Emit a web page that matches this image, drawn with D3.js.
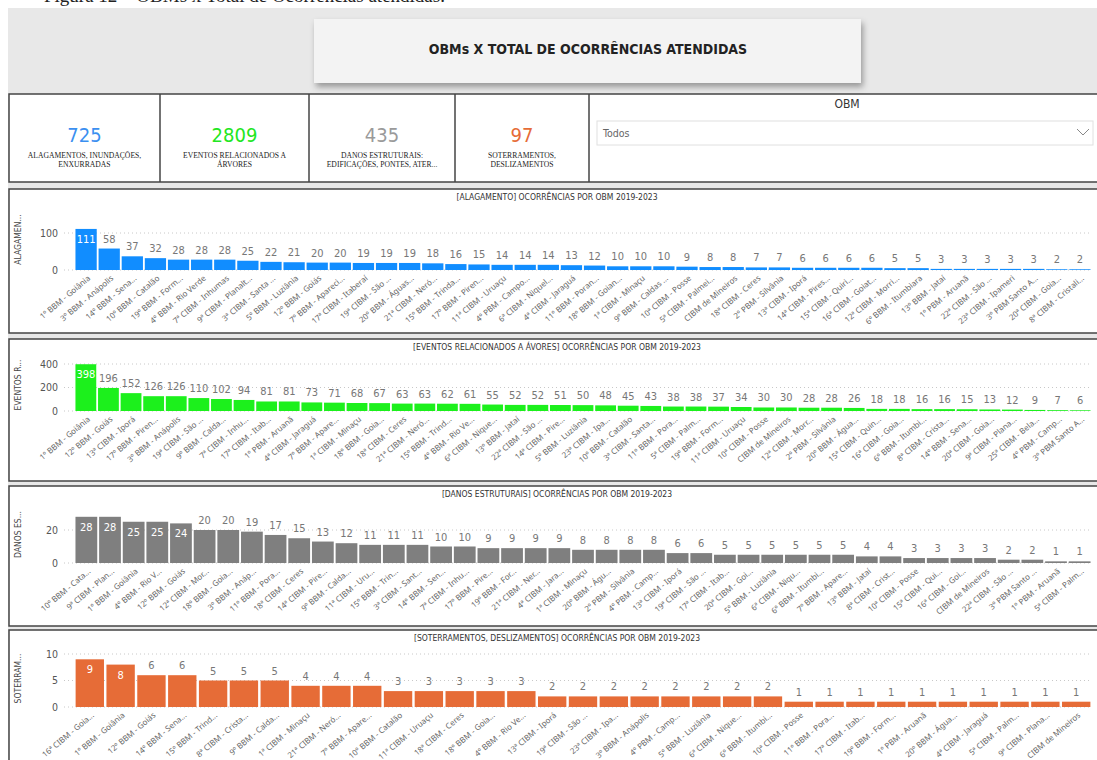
<!DOCTYPE html>
<html><head><meta charset="utf-8">
<script src="https://cdn.jsdelivr.net/npm/d3@7"></script>
<style>
html,body{margin:0;padding:0;background:#fff;}
svg{display:block;}
</style></head>
<body>
<svg id="c" width="1097" height="760"></svg>
<script>
// ---------------- DATA ----------------
const kpiValues = [725, 2809, 435, 97];
const kpiLabels = [
  ["ALAGAMENTOS, INUNDAÇÕES,", "ENXURRADAS"],
  ["EVENTOS RELACIONADOS A", "ÁRVORES"],
  ["DANOS ESTRUTURAIS:", "EDIFICAÇÕES, PONTES, ATER..."],
  ["SOTERRAMENTOS,", "DESLIZAMENTOS"]
];

const alagCategories = ["1º BBM - Goiânia","3º BBM - Anápolis","14º BBM - Sena...","10º BBM - Catalão","19º BBM - Form...","4º BBM - Rio Verde","7ª CIBM - Inhumas","9ª CIBM - Planalt...","3ª CIBM - Santa ...","5º BBM - Luziânia","12º BBM - Goiás","7º BBM - Apareci...","17ª CIBM - Itaberaí","19ª CIBM - São ...","20º BBM - Águas...","21ª CIBM - Neró...","15º BBM - Trinda...","17º BBM - Piren...","11ª CIBM - Uruaçu","4º PBM - Campo...","6ª CIBM - Niquel...","4ª CIBM - Jaraguá","11º BBM - Poran...","18º BBM - Goian...","1ª CIBM - Minaçu","9º BBM - Caldas ...","10ª CIBM - Posse","5ª CIBM - Palmei...","CIBM de Mineiros","18ª CIBM - Ceres","2º PBM - Silvânia","13ª CIBM - Iporá","14ª CIBM - Pires...","15ª CIBM - Quiri...","16ª CIBM - Goiat...","12ª CIBM - Morri...","6º BBM - Itumbiara","13º BBM - Jataí","1º PBM - Aruanã","22ª CIBM - São ...","23ª CIBM - Ipameri","3º PBM Santo A...","20ª CIBM - Goia...","8ª CIBM - Cristali..."];
const alagValues = [111,58,37,32,28,28,28,25,22,21,20,20,19,19,19,18,16,15,14,14,14,13,12,10,10,10,9,8,8,7,7,6,6,6,6,5,5,3,3,3,3,3,2,2];
const alagTicks = [0, 100];

const eventosCategories = ["1º BBM - Goiânia","12º BBM - Goiás","13ª CIBM - Iporá","17º BBM - Piren...","3º BBM - Anápolis","19ª CIBM - São ...","9º BBM - Calda...","7ª CIBM - Inhu...","17ª CIBM - Itab...","1º PBM - Aruanã","4ª CIBM - Jaraguá","7º BBM - Apare...","1ª CIBM - Minaçu","18º BBM - Goia...","18ª CIBM - Ceres","21ª CIBM - Neró...","15º BBM - Trind...","4º BBM - Rio Ve...","6ª CIBM - Nique...","13º BBM - Jataí","22ª CIBM - São ...","14ª CIBM - Pire...","5º BBM - Luziânia","23ª CIBM - Ipa...","10º BBM - Catalão","3ª CIBM - Santa...","11º BBM - Pora...","5ª CIBM - Palm...","19º BBM - Form...","11ª CIBM - Uruaçu","10ª CIBM - Posse","CIBM de Mineiros","12ª CIBM - Morr...","2º PBM - Silvânia","20º BBM - Água...","15ª CIBM - Quin...","16ª CIBM - Goia...","6º BBM - Itumbi...","8ª CIBM - Crista...","14º BBM - Sena...","20ª CIBM - Goia...","9ª CIBM - Plana...","25ª CIBM - Bela...","4º PBM - Camp...","3º PBM Santo A..."];
const eventosValues = [398,196,152,126,126,110,102,94,81,81,73,71,68,67,63,63,62,61,55,52,52,51,50,48,45,43,38,38,37,34,30,30,28,28,26,18,18,16,16,15,13,12,9,7,6];
const eventosTicks = [0, 200, 400];

const danosCategories = ["10º BBM - Cata...","9ª CIBM - Plan...","1º BBM - Goiânia","4º BBM - Rio V...","12º BBM - Goiás","12ª CIBM - Mor...","18º BBM - Goia...","3º BBM - Anáp...","11º BBM - Pora...","18ª CIBM - Ceres","14ª CIBM - Pire...","9º BBM - Calda...","11ª CIBM - Uru...","15º BBM - Trin...","3ª CIBM - Sant...","14º BBM - Sen...","7ª CIBM - Inhu...","17º BBM - Pire...","19º BBM - For...","21ª CIBM - Ner...","4ª CIBM - Jara...","1ª CIBM - Minaçu","20º BBM - Águ...","2º PBM - Silvânia","4º PBM - Camp...","13ª CIBM - Iporá","19ª CIBM - São ...","17ª CIBM - Itab...","20ª CIBM - Goi...","5º BBM - Luziânia","6ª CIBM - Niqu...","6º BBM - Itumbi...","7º BBM - Apare...","13º BBM - Jataí","8ª CIBM - Crist...","10ª CIBM - Posse","15ª CIBM - Qui...","16ª CIBM - Goi...","CIBM de Mineiros","22ª CIBM - São ...","3º PBM Santo ...","1º PBM - Aruanã","5ª CIBM - Palm..."];
const danosValues = [28,28,25,25,24,20,20,19,17,15,13,12,11,11,11,10,10,9,9,9,9,8,8,8,8,6,6,5,5,5,5,5,5,4,4,3,3,3,3,2,2,1,1];
const danosTicks = [0, 20];

const soterCategories = ["16ª CIBM - Goia...","1º BBM - Goiânia","12º BBM - Goiás","14º BBM - Sena...","15º BBM - Trind...","8ª CIBM - Crista...","9º BBM - Calda...","1ª CIBM - Minaçu","21ª CIBM - Neró...","7º BBM - Apare...","10º BBM - Catalão","11ª CIBM - Uruaçu","18ª CIBM - Ceres","18º BBM - Goia...","4º BBM - Rio Ve...","13ª CIBM - Iporá","19ª CIBM - São ...","23ª CIBM - Ipa...","3º BBM - Anápolis","4º PBM - Camp...","5º BBM - Luziânia","6ª CIBM - Nique...","6º BBM - Itumbi...","10ª CIBM - Posse","11º BBM - Pora...","17ª CIBM - Itab...","19º BBM - Form...","1º PBM - Aruanã","20º BBM - Água...","4ª CIBM - Jaraguá","5ª CIBM - Palm...","9ª CIBM - Plana...","CIBM de Mineiros"];
const soterValues = [9,8,6,6,5,5,5,4,4,4,3,3,3,3,3,2,2,2,2,2,2,2,2,1,1,1,1,1,1,1,1,1,1];
const soterTicks = [0, 5, 10];

// ---------------- DRAW ----------------
const svg = d3.select("#c");
const DIN = "'DejaVu Sans Condensed','DejaVu Sans',Roboto,sans-serif";
const SEG = "'Noto Sans','Open Sans',sans-serif";

const defs = svg.append("defs");
const f = defs.append("filter").attr("id","sh").attr("x","-10%").attr("y","-20%").attr("width","130%").attr("height","160%");
f.append("feDropShadow").attr("dx",2).attr("dy",4).attr("stdDeviation",3).attr("flood-color","#000").attr("flood-opacity",0.35);

// caption partially cut at top
svg.append("text").attr("x",44).attr("y",2).attr("font-family","'Liberation Serif',serif")
  .attr("font-size",19).attr("fill","#222").text("Figura 12 – OBMs x Total de Ocorrências atendidas.");

// dashboard background
svg.append("rect").attr("x",8).attr("y",8).attr("width",1100).attr("height",760).attr("fill","#e8e8e8");

// title box
svg.append("rect").attr("x",314).attr("y",19).attr("width",547).attr("height",64)
  .attr("fill","#f3f3f3").attr("filter","url(#sh)");
svg.append("text").attr("x",588).attr("y",54).attr("text-anchor","middle")
  .attr("font-family",DIN).attr("font-weight","bold").attr("font-size",14).attr("fill","#222")
  .text("OBMs X TOTAL DE OCORRÊNCIAS ATENDIDAS");

// KPI row
const kpiEdges = [9, 160, 309, 455, 589];
const kpiColors = ["#3b8ff0", "#22e622", "#9a9a9a", "#e66c37"];
svg.append("rect").attr("x",9).attr("y",94).attr("width",1095).attr("height",88)
  .attr("fill","#fff").attr("stroke","#444").attr("stroke-width",1.5);
kpiEdges.slice(1).forEach(x => svg.append("line").attr("x1",x).attr("x2",x).attr("y1",94).attr("y2",182)
  .attr("stroke","#444").attr("stroke-width",1.5));
kpiValues.forEach((v,i) => {
  const cx = (kpiEdges[i] + kpiEdges[i+1]) / 2;
  svg.append("text").attr("x",cx).attr("y",142).attr("text-anchor","middle")
    .attr("font-family",DIN).attr("font-size",20).attr("fill",kpiColors[i]).text(v);
  kpiLabels[i].forEach((l,j) => {
    svg.append("text").attr("x",cx).attr("y",158 + j*9).attr("text-anchor","middle")
      .attr("font-family","'Liberation Serif',serif").attr("font-size",9).attr("fill","#222")
      .attr("transform",`translate(${cx},0) scale(0.85,1) translate(${-cx},0)`).text(l);
  });
});
// slicer
svg.append("text").attr("x",847).attr("y",108).attr("text-anchor","middle")
  .attr("font-family",DIN).attr("font-size",12).attr("fill","#333").text("OBM");
svg.append("rect").attr("x",597).attr("y",121).attr("width",496).attr("height",24)
  .attr("fill","#fff").attr("stroke","#e0e0e0");
svg.append("text").attr("x",603).attr("y",137).attr("font-family",DIN).attr("font-size",10.5)
  .attr("fill","#666").text("Todos");
svg.append("path").attr("d","M1077,129 L1083,135 L1089,129").attr("fill","none").attr("stroke","#888").attr("stroke-width",1);

// charts
const charts = [
  {cats: alagCategories, vals: alagValues, ticks: alagTicks, color:"#118dff",
   title:"[ALAGAMENTO] OCORRÊNCIAS POR OBM 2019-2023", ylab:"ALAGAMEN...",
   top:189, bottom:333, y0:270, yT:233},
  {cats: eventosCategories, vals: eventosValues, ticks: eventosTicks, color:"#1cf01c",
   title:"[EVENTOS RELACIONADOS A ÁVORES] OCORRÊNCIAS POR OBM 2019-2023", ylab:"EVENTOS R...",
   top:339, bottom:481, y0:411, yT:364},
  {cats: danosCategories, vals: danosValues, ticks: danosTicks, color:"#7f7f7f",
   title:"[DANOS ESTRUTURAIS] OCORRÊNCIAS POR OBM 2019-2023", ylab:"DANOS ES...",
   top:486, bottom:626, y0:563, yT:530},
  {cats: soterCategories, vals: soterValues, ticks: soterTicks, color:"#e66c37",
   title:"[SOTERRAMENTOS, DESLIZAMENTOS] OCORRÊNCIAS POR OBM 2019-2023", ylab:"SOTERRAM...",
   top:630, bottom:800, y0:707, yT:654}
];

charts.forEach(c => {
  const g = svg.append("g");
  g.append("rect").attr("x",9).attr("y",c.top).attr("width",1095).attr("height",c.bottom-c.top)
    .attr("fill","#fff").attr("stroke","#444").attr("stroke-width",1.5);
  g.append("text").attr("x",557).attr("y",c.top+11).attr("text-anchor","middle")
    .attr("font-family",DIN).attr("font-size",8.5).attr("fill","#333").text(c.title);

  const tmax = c.ticks[c.ticks.length-1];
  const y = d3.scaleLinear().domain([0, tmax]).range([c.y0, c.yT]);
  const x = d3.scaleBand().domain(c.cats).range([75, 1091]).paddingInner(0.08).paddingOuter(0.02);

  // y label
  const ymid = (c.y0 + c.top + 20) / 2;
  g.append("text").attr("transform",`translate(21,${ymid}) rotate(-90)`).attr("text-anchor","middle")
    .attr("font-family",DIN).attr("font-size",8.5).attr("fill","#444").text(c.ylab);

  // grid
  g.selectAll(".grid").data(c.ticks).join("line")
    .attr("x1",64).attr("x2",1092).attr("y1",d=>y(d)).attr("y2",d=>y(d))
    .attr("stroke","#c8c8c8").attr("stroke-dasharray","1,3");

  // y axis
  const ya = g.append("g").attr("transform","translate(58,0)")
    .call(d3.axisLeft(y).tickValues(c.ticks).tickSize(0).tickPadding(0));
  ya.select(".domain").remove();
  ya.selectAll("text").attr("font-family",DIN).attr("font-size",10.5).attr("fill","#555");

  // bars
  g.selectAll(".bar").data(c.vals).join("rect")
    .attr("x",(d,i)=>x(c.cats[i])).attr("width",x.bandwidth())
    .attr("y",d=>y(d)).attr("height",d=>c.y0 - y(d)).attr("fill",c.color);

  // labels
  const vmax = d3.max(c.vals);
  g.selectAll(".lab").data(c.vals).join("text")
    .attr("x",(d,i)=>x(c.cats[i]) + x.bandwidth()/2)
    .attr("y",d => d/vmax >= 0.8 ? y(d) + 14 : y(d) - 6)
    .attr("text-anchor","middle").attr("font-family",DIN).attr("font-size",11)
    .attr("fill",d => d/vmax >= 0.8 ? "#fff" : "#777").text(d=>d);

  // x axis
  const xa = g.append("g").attr("transform",`translate(0,${c.y0})`)
    .call(d3.axisBottom(x).tickSize(0));
  xa.select(".domain").remove();
  xa.selectAll("text").attr("x",0).attr("y",0).attr("dy","0.35em")
    .attr("text-anchor","end").attr("transform","translate(3,7) rotate(-40)")
    .attr("font-family",SEG).attr("font-size",8).attr("fill","#666");
});
</script>
</body></html>
